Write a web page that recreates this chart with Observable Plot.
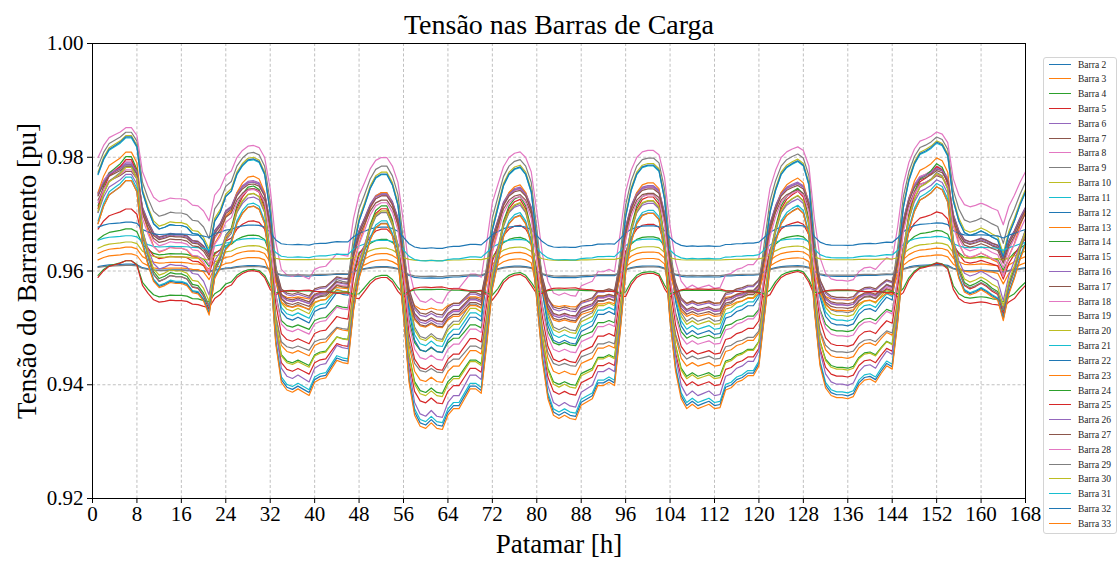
<!DOCTYPE html>
<html><head><meta charset="utf-8">
<script src="https://cdn.jsdelivr.net/npm/d3@7"></script>
<script src="https://cdn.jsdelivr.net/npm/@observablehq/plot@0.6"></script>
<style>
body{margin:0;background:#fff;}
#wrap{position:relative;width:1119px;height:561px;font-family:"Liberation Serif","DejaVu Serif",serif;}
#legend{position:absolute;left:1043px;top:57px;width:74px;height:477px;border:1px solid #d4d4d4;border-radius:3px;box-sizing:border-box;background:#fff;}
.row{position:absolute;left:0;height:14px;font-size:9.5px;line-height:14px;color:#222;}
.row .sw{position:absolute;left:5px;top:6px;width:22px;height:0;border-top:1.4px solid;}
.row .tx{position:absolute;left:34px;top:0;white-space:nowrap;}
</style></head><body><div id="wrap"></div>
<script>
// Hours (x) and tick values
const horas = d3.range(1, 169);
const ticksX = d3.range(0, 169, 8);
const ticksY = [0.92, 0.94, 0.96, 0.98, 1.00];

const barras = d3.range(2, 34).map(n => "Barra " + n);

// Voltage of each bus in the three operating states
// (peak state ~h7, mid state ~h15, valley state ~h38)
const tensaoPico  = [.9612,.9642,.9674,.9709,.9790,.9787,.9793,.9844,.9838,.9834,.9836,.9809,.9801,.9796,.9788,.9784,.9852,.9610,.9651,.9662,.9686,.9630,.9618,.9618,.9770,.9775,.9778,.9785,.9782,.9765,.9759,.9759];
const tensaoMedia = [.9602,.9615,.9630,.9625,.9665,.9664,.9650,.9702,.9685,.9680,.9680,.9640,.9595,.9590,.9662,.9660,.9727,.9601,.9625,.9643,.9665,.9605,.9557,.9548,.9610,.9655,.9640,.9590,.9600,.9582,.9580,.9578];
const tensaoVale  = [.9591,.9552,.9500,.9475,.9555,.9558,.9545,.9535,.9528,.9520,.9512,.9535,.9437,.9422,.9545,.9548,.9589,.9593,.9620,.9624,.9646,.9454,.9565,.9566,.9409,.9540,.9492,.9463,.9434,.9395,.9390,.9385];

// Hourly share of the peak state and of the valley state
const pesoPico = [
 .58,.75,.86,.90,.94,1.0,1.0,.89,.38,.18,.02,-.04,
 -.02,.01,0,0,-.02,-.09,-.10,-.15,-.20,.05,.15,.33,
 .39,.58,.68,.74,.75,.72,.58,.25,0,0,0,0,
 0,0,0,0,0,0,0,0,0,0,0,.05,
 .23,.42,.54,.58,.58,.46,.23,0,0,0,0,0,
 0,0,0,0,0,0,0,0,0,0,0,0,
 .20,.45,.58,.64,.66,.58,.38,.10,0,0,0,0,
 0,0,0,0,0,0,0,0,0,0,0,.10,
 .40,.58,.66,.68,.68,.62,.30,0,0,0,0,0,
 0,0,0,0,0,0,0,0,0,0,0,0,
 0,.15,.40,.58,.66,.70,.73,.68,.46,.05,0,0,
 0,0,0,0,0,0,0,0,0,0,0,0,
 0,.20,.51,.70,.81,.84,.88,.94,.91,.79,.28,.05,
 -.05,-.08,-.06,-.04,-.06,-.10,-.12,-.20,-.05,.05,.23,.38];
const pesoVale = [
 0,0,0,0,0,0,0,0,0,0,0,0,
 0,0,0,0,0,0,0,.02,.10,0,0,0,
 0,0,0,0,0,0,0,.10,.55,.90,.97,.99,
 .96,.99,1.02,.90,.87,.86,.78,.70,.72,.73,.25,0,
 0,0,0,0,0,0,0,.30,.90,1.20,1.30,1.32,
 1.27,1.32,1.33,1.20,1.14,1.14,1.05,.96,.96,1.00,.55,.05,
 0,0,0,0,0,0,0,.25,.70,1.05,1.20,1.23,
 1.20,1.23,1.24,1.11,1.08,1.05,.93,.93,.90,.93,.45,0,
 0,0,0,0,0,0,0,.35,.80,1.05,1.14,1.10,
 1.14,1.12,1.10,1.14,1.13,.97,.95,.90,.88,.84,.84,.75,
 .30,0,0,0,0,0,0,0,0,.30,.75,.95,
 1.02,1.04,1.04,1.05,1.03,.93,.88,.87,.90,.82,.75,.78,
 .35,0,0,0,0,0,0,0,0,0,0,0,
 .03,.03,.03,.02,.03,.03,.04,.15,.05,0,0,0];

const cores = barras.map((_, i) => d3.schemeCategory10[i % 10]);

const dados = barras.flatMap((b, i) => horas.map((h, k) => ({
  barra: b,
  hora: h,
  tensao: tensaoMedia[i] + pesoPico[k] * (tensaoPico[i] - tensaoMedia[i]) + pesoVale[k] * (tensaoVale[i] - tensaoMedia[i])
})));

const serif = "Liberation Serif, DejaVu Serif, serif";
const grade = {stroke: "#b0b0b0", strokeOpacity: 1, strokeWidth: 0.8, strokeDasharray: "3,2.2"};

const chart = Plot.plot({
  width: 1119, height: 561,
  marginLeft: 92, marginRight: 94, marginTop: 43, marginBottom: 63,
  style: {fontFamily: serif, fontSize: "21px", color: "#000", background: "transparent"},
  x: {domain: [0, 168]},
  y: {domain: [0.92, 1.0]},
  color: {domain: barras, range: cores},
  marks: [
    Plot.gridX(ticksX, grade),
    Plot.gridY(ticksY, grade),
    Plot.line(dados, {x: "hora", y: "tensao", z: "barra", stroke: "barra", strokeWidth: 1.2}),
    Plot.frame({stroke: "#000", strokeWidth: 1}),
    Plot.axisX(ticksX, {tickSize: 5, tickPadding: 3, label: null, fontSize: 21}),
    Plot.axisY(ticksY, {tickSize: 5, tickPadding: 4, label: null, fontSize: 21, tickFormat: d => d.toFixed(2)}),
    Plot.text(["Tensão nas Barras de Carga"], {frameAnchor: "top", dy: -18, fontSize: 28, lineAnchor: "middle", textAnchor: "middle"}),
    Plot.text(["Patamar [h]"], {frameAnchor: "bottom", dy: 46, fontSize: 27, lineAnchor: "middle", textAnchor: "middle"}),
    Plot.text(["Tensão do Barramento [pu]"], {frameAnchor: "left", dx: -65, rotate: -90, fontSize: 27, lineAnchor: "middle", textAnchor: "middle"})
  ]
});

const wrap = document.getElementById("wrap");
wrap.appendChild(chart);

const leg = document.createElement("div");
leg.id = "legend";
barras.forEach((b, i) => {
  const r = document.createElement("div");
  r.className = "row";
  r.style.top = (64.5 + i * 14.82 - 57 - 1 - 7) + "px";
  r.innerHTML = `<span class="sw" style="border-color:${cores[i]}"></span><span class="tx">${b}</span>`;
  leg.appendChild(r);
});
wrap.appendChild(leg);
</script></body></html>
